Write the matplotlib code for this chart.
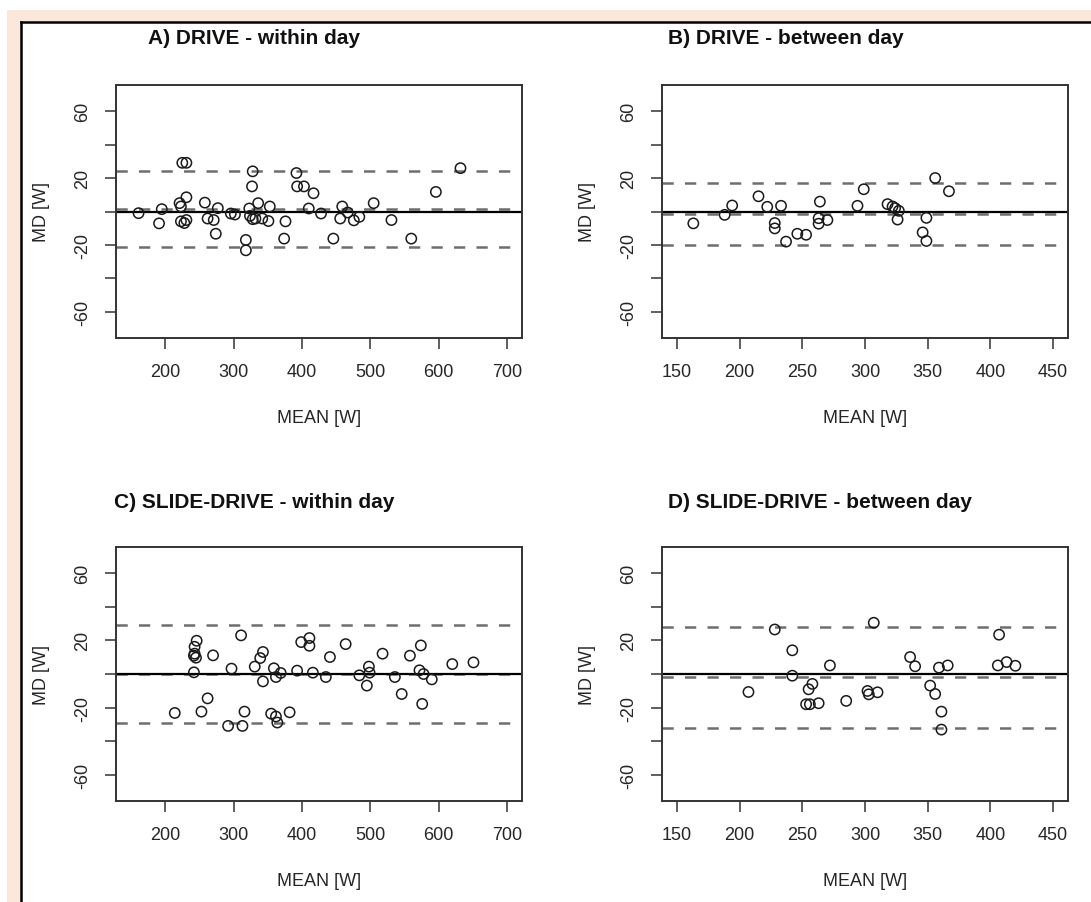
#Bland-Altman plots: DRIVE / SLIDE-DRIVE, within day and between day

import matplotlib
matplotlib.use('Agg')
import matplotlib.pyplot as plt
from matplotlib.patches import Rectangle
from matplotlib.lines import Line2D
import numpy as np

plt.rcParams['font.family'] = ['Liberation Sans', 'DejaVu Sans']

# A) DRIVE - within day
a_mean = [161, 191, 195, 221, 223, 231, 225, 231, 223, 228, 231, 258, 262, 271, 277, 274,
          296, 302, 318, 318, 323, 327, 328, 324, 328, 332, 336, 342, 351, 353, 376, 374,
          392, 393, 403, 417, 410, 428, 446, 459, 456, 467, 476, 484, 505, 531, 560, 596, 632]
a_md = [-1.0, -7.1, 1.4, 5.0, 3.0, 8.5, 29.1, 29.1, -5.9, -6.9, -5.1, 5.3, -4.2, -5.1, 2.0, -13.3,
        -1.2, -1.8, -17.0, -23.2, 1.8, 15.0, 24.0, -2.6, -4.6, -4.2, 5.0, -4.2, -5.7, 3.0, -5.9, -16.2,
        23.0, 15.0, 15.0, 10.9, 1.8, -1.2, -16.2, 3.0, -4.2, -0.6, -5.3, -3.2, 5.0, -5.1, -16.2, 11.7, 25.9]
a_lines = [24.2, 1.2, -21.4]

# B) DRIVE - between day
b_mean = [163, 188, 194, 215, 222, 233, 228, 228, 237, 246, 253, 264, 263, 263, 270,
          294, 299, 318, 322, 324, 327, 326, 349, 346, 349, 356, 367]
b_md = [-7.1, -2.0, 3.6, 9.1, 2.8, 3.4, -6.9, -10.1, -18.0, -13.3, -13.9, 5.9, -4.0, -7.3, -5.1,
        3.4, 13.3, 4.4, 3.0, 2.0, 0.4, -4.8, -3.8, -12.5, -17.6, 20.0, 12.1]
b_lines = [17.0, -1.2, -20.2]

# C) SLIDE-DRIVE - within day
c_mean = [214, 242, 242, 243, 243, 246, 245, 253, 262, 270, 292, 297, 311, 313, 316, 331,
          339, 343, 343, 355, 359, 362, 362, 364, 369, 382, 393, 399, 411, 411, 416, 435,
          441, 464, 484, 498, 499, 495, 518, 536, 546, 558, 572, 574, 576, 578, 590, 620, 651]
c_md = [-23.2, 1.0, 10.9, 12.1, 16.2, 19.8, 9.7, -22.4, -14.5, 11.1, -30.9, 3.2, 23.0, -30.9, -22.4, 4.4,
        9.5, 13.1, -4.4, -23.6, 3.4, -1.8, -25.3, -28.9, 0.6, -22.8, 2.0, 19.0, 21.4, 16.8, 0.8, -1.8,
        10.1, 17.8, -0.8, 4.4, 0.8, -6.9, 12.1, -1.8, -11.9, 10.9, 2.2, 17.0, -17.8, 0.0, -3.2, 5.9, 6.9]
c_lines = [28.9, 0.0, -29.1]

# D) SLIDE-DRIVE - between day
d_mean = [207, 228, 242, 242, 255, 258, 253, 256, 263, 272, 285, 302, 303, 310, 307,
          336, 340, 352, 356, 359, 366, 361, 361, 407, 406, 413, 420]
d_md = [-10.7, 26.5, 14.1, -1.0, -9.1, -5.9, -18.0, -18.0, -17.4, 5.1, -16.0, -10.1, -12.1, -10.9, 30.5,
        10.1, 4.6, -6.9, -11.9, 3.8, 5.1, -22.4, -33.1, 23.4, 5.1, 7.1, 4.9]
d_lines = [27.7, -2.0, -32.3]

titles = ['A) DRIVE - within day', 'B) DRIVE - between day',
          'C) SLIDE-DRIVE - within day', 'D) SLIDE-DRIVE - between day']

W, H = 1091, 903
fig = plt.figure(figsize=(W / 100, H / 100), dpi=100)

# peach frame + white box
fig.patches.append(Rectangle((7 / W, 0), (W - 7) / W, (H - 11) / H, transform=fig.transFigure,
                             facecolor='#fce8da', edgecolor='none', zorder=-3))
fig.patches.append(Rectangle((21 / W, 0), (W - 21) / W, (H - 23) / H, transform=fig.transFigure,
                             facecolor='white', edgecolor='none', zorder=-2))
fig.lines.append(Line2D([21 / W, 21 / W], [0, 1 - 23 / H], transform=fig.transFigure, color='black', lw=1.8))
fig.lines.append(Line2D([21 / W, 1], [1 - 23 / H, 1 - 23 / H], transform=fig.transFigure, color='black', lw=1.8))


def px_rect(x0, y0, x1, y1):
    return [x0 / W, 1 - y1 / H, (x1 - x0) / W, (y1 - y0) / H]


panels = [
    (a_mean, a_md, a_lines, (116, 86, 522, 339), (150, 700), range(200, 701, 100), (148, 38)),
    (b_mean, b_md, b_lines, (662, 86, 1068, 339), (150, 450), range(150, 451, 50), (668, 38)),
    (c_mean, c_md, c_lines, (116, 548, 522, 802), (150, 700), range(200, 701, 100), (114, 503)),
    (d_mean, d_md, d_lines, (662, 548, 1068, 802), (150, 450), range(150, 451, 50), (668, 503)),
]

for i, (xm, md, lines, box, xl, xt, tpos) in enumerate(panels):
    ax = fig.add_axes(px_rect(*box))
    ax.scatter(xm, md, s=55, facecolors='none', edgecolors='#1a1a1a', linewidths=1.1, zorder=3)
    ax.axhline(0, color='black', lw=1.6, zorder=2)
    for v in lines:
        ax.axhline(v, color='#6e6e6e', lw=1.8, ls=(0, (4.5, 4.5)), zorder=1)
    # R style 4% padding
    r = xl[1] - xl[0]
    ax.set_xlim(xl[0] - 0.04 * r, xl[1] + 0.04 * r)
    ax.set_ylim(-75.6, 75.6)
    ax.set_xticks(list(xt))
    ax.set_xticklabels([str(t) for t in xt])
    ax.set_yticks(range(-60, 61, 20))
    ax.set_yticklabels(['-60', '', '-20', '', '20', '', '60'], rotation=90, va='center')
    ax.tick_params(direction='out', length=8, width=1.1, color='#333333', labelsize=13,
                   labelcolor='#262626', pad=10)
    for sp in ax.spines.values():
        sp.set_linewidth(1.4)
        sp.set_color('#333333')
    fig.text(tpos[0] / W, 1 - tpos[1] / H, titles[i], fontsize=15, fontweight='bold',
             ha='left', va='center', color='#111111')
    fig.text((box[0] + box[2]) / 2 / W, 1 - (box[3] + 80) / H, 'MEAN [W]', fontsize=13,
             ha='center', va='center', color='#262626')
    fig.text((box[0] - 75) / W, 1 - (box[1] + box[3]) / 2 / H, 'MD [W]', fontsize=13,
             ha='center', va='center', rotation=90, color='#262626')

fig.savefig('out.png', dpi=100)
